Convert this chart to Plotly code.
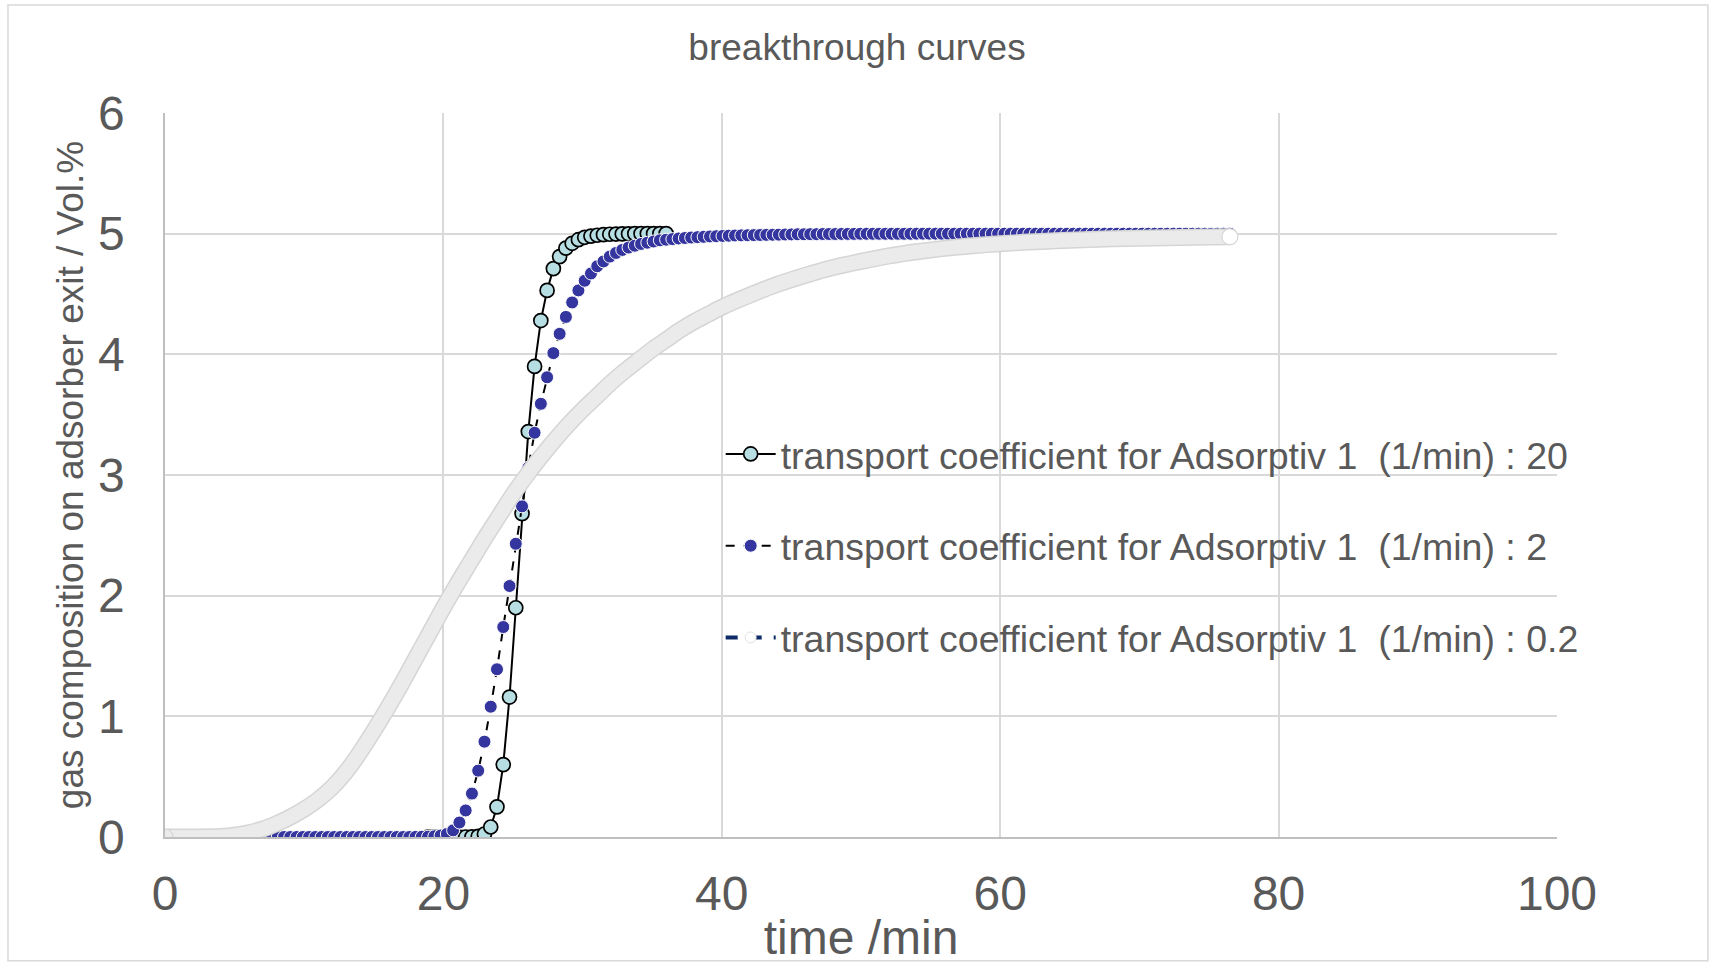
import plotly.graph_objects as go

# ---------------- data ----------------
DT = 0.45  # sampling step of the simulated curves (min)

# k = 2 (1/min): samples every DT starting at t = 0
k2_values = [
    0, 0, 0, 0, 0, 0, 0, 0, 0, 0,
    0, 0, 0, 0, 0, 0, 0, 0, 0, 0,
    0, 0, 0, 0, 0, 0, 0, 0, 0, 0,
    0, 0, 0, 0, 0, 0, 0, 0, 0, 0,
    0.001, 0.002, 0.003, 0.006, 0.012, 0.025, 0.055, 0.12, 0.22, 0.36,
    0.55, 0.79, 1.08, 1.39, 1.74, 2.08, 2.43, 2.74, 3.06, 3.35,
    3.59, 3.81, 4.01, 4.17, 4.31, 4.43, 4.53, 4.61, 4.67, 4.73,
    4.77, 4.81, 4.84, 4.865, 4.885, 4.9, 4.915, 4.925, 4.935, 4.945,
    4.95, 4.955, 4.96, 4.964, 4.968, 4.971, 4.974, 4.977, 4.979, 4.981,
    4.983, 4.985, 4.986, 4.987, 4.988, 4.989, 4.99, 4.991, 4.992, 4.993,
    4.994, 4.995, 4.995, 4.996, 4.996, 4.997, 4.997, 4.997, 4.998, 4.998,
    4.998, 4.999, 4.999, 4.999, 4.999, 4.999, 4.999, 4.999, 4.999, 4.999,
    5, 5, 5, 5, 5, 5, 5, 5, 5, 5,
    5, 5, 5, 5, 5, 5, 5, 5, 5, 5,
    5, 5, 5, 5, 5, 5, 5, 5, 5, 5,
    5, 5, 5, 5, 5, 5, 5, 5, 5, 5,
    5, 5, 5, 5, 5, 5, 5, 5, 5, 5,
    5,
]

# k = 20 (1/min): samples every DT starting at t = 18.9
k20_start = 18.9
k20_values = [
    0, 0, 0, 0, 0, 0, 0, 0.001, 0.005, 0.025,
    0.083, 0.25, 0.60, 1.16, 1.90, 2.68, 3.36, 3.90, 4.28, 4.53,
    4.71, 4.81, 4.88, 4.92, 4.95, 4.97, 4.98, 4.987, 4.992, 4.995,
    4.997, 4.998, 4.999, 5, 5, 5, 5, 5, 5,
]

# k = 0.2 (1/min): dense curve, read at these times
k02_time = [0, 2, 4, 5, 6, 7, 8, 9, 10, 11, 12, 13, 14, 15, 16, 17, 18, 19, 20,
            21, 22, 23, 24, 25, 26, 27, 28, 29, 30, 31, 32, 33, 34, 35, 36, 37,
            38, 39, 40, 42, 44, 46, 48, 50, 52, 54, 56, 58, 60, 62, 64, 66, 68,
            70, 72, 74, 76.5]
k02_values = [0, 0, 0.005, 0.015, 0.035, 0.065, 0.11, 0.165, 0.23, 0.31, 0.41,
              0.54, 0.7, 0.88, 1.07, 1.27, 1.48, 1.69, 1.9, 2.1, 2.29, 2.48,
              2.66, 2.84, 3.0, 3.15, 3.29, 3.42, 3.54, 3.65, 3.76, 3.86, 3.95,
              4.04, 4.12, 4.2, 4.27, 4.33, 4.39, 4.49, 4.58, 4.655, 4.72, 4.77,
              4.815, 4.85, 4.878, 4.9, 4.917, 4.93, 4.941, 4.95, 4.957, 4.962,
              4.967, 4.971, 4.975]

names = [
    "transport coefficient for Adsorptiv 1  (1/min) : 20",
    "transport coefficient for Adsorptiv 1  (1/min) : 2",
    "transport coefficient for Adsorptiv 1  (1/min) : 0.2",
]
x_ticks = [0, 20, 40, 60, 80, 100]
y_ticks = [0, 1, 2, 3, 4, 5, 6]

title_text = "breakthrough curves"
x_title = "time /min"
y_title = "gas composition on adsorber exit / Vol.%"

# ---------------- figure ----------------
FONT = "Liberation Sans, Arial, sans-serif"
TXT = "#595959"

fig = go.Figure()

# k = 20
fig.add_trace(go.Scatter(
    y=k20_values, x0=k20_start, dx=DT, mode="lines+markers", name=names[0],
    legendgroup="g1",
    line=dict(color="black", width=2),
    marker=dict(size=14, color="#b7dee2", line=dict(color="black", width=1.7)),
))

# k = 2
fig.add_trace(go.Scatter(
    y=k2_values, x0=0, dx=DT, mode="lines+markers", name=names[1],
    legendgroup="g2",
    line=dict(color="black", width=2, dash="dash"),
    marker=dict(size=13, color="#3535a0", line=dict(color="white", width=1)),
))

# k = 0.2 : dense white markers drawn as a band
fig.add_trace(go.Scatter(
    x=k02_time, y=k02_values, mode="lines", showlegend=False, legendgroup="g3",
    line=dict(color="#d5d5d5", width=17, shape="spline", smoothing=0.8),
    hoverinfo="skip",
))
fig.add_trace(go.Scatter(
    x=k02_time, y=k02_values, mode="lines", showlegend=False, legendgroup="g3",
    line=dict(color="#ebebeb", width=14, shape="spline", smoothing=0.8),
    hoverinfo="skip",
))
fig.add_trace(go.Scatter(
    x=[k02_time[0], k02_time[-1]], y=[k02_values[0], k02_values[-1]],
    mode="markers", showlegend=False, legendgroup="g3",
    marker=dict(size=16, color=["#ebebeb", "white"],
                line=dict(color="#d5d5d5", width=1.2)),
))
# legend entry for k = 0.2
fig.add_trace(go.Scatter(
    x=[None], y=[None], mode="lines+markers", name=names[2], legendgroup="g3",
    line=dict(color="#0b2a66", width=4, dash="dash"),
    marker=dict(size=11, color="white", line=dict(color="#e0e0e0", width=1)),
))

fig.update_layout(
    width=1714, height=964,
    margin=dict(l=165, r=157, t=113, b=127),
    paper_bgcolor="white", plot_bgcolor="white",
    font=dict(family=FONT, color=TXT),
    title=dict(text=title_text, x=0.5, xref="container", xanchor="center",
               y=1 - 47 / 964, yanchor="middle",
               font=dict(size=37, color=TXT, family=FONT)),
    legend=dict(x=0.3992, xanchor="left", y=0.5717, yanchor="top",
                bgcolor="rgba(0,0,0,0)", font=dict(size=37.5, color=TXT),
                tracegroupgap=40, traceorder="grouped", itemwidth=50),
    showlegend=True,
    shapes=[dict(type="rect", xref="paper", yref="paper",
                 x0=-0.1128, x1=1.1084, y0=-0.1708, y1=1.149,
                 line=dict(color="#d9d9d9", width=1.5), layer="below")],
)

fig.update_xaxes(
    range=[0, 100], tickvals=x_ticks, ticktext=[str(v) for v in x_ticks],
    showgrid=True, gridcolor="#d9d9d9", gridwidth=1.5,
    showline=True, linecolor="#bfbfbf", linewidth=1.5, zeroline=False,
    ticks="", ticklabelstandoff=14, automargin=False,
    tickfont=dict(size=48, color=TXT, family=FONT),
    title=dict(text=x_title, font=dict(size=48, color=TXT, family=FONT), standoff=4),
)
fig.update_yaxes(
    range=[0, 6], tickvals=y_ticks, ticktext=[str(v) for v in y_ticks],
    showgrid=True, gridcolor="#d9d9d9", gridwidth=1.5,
    showline=True, linecolor="#bfbfbf", linewidth=1.5, zeroline=False,
    ticks="", ticklabelstandoff=29, automargin=False,
    tickfont=dict(size=48, color=TXT, family=FONT),
    title=dict(text=y_title, font=dict(size=37, color=TXT, family=FONT), standoff=3),
)

fig.write_html("out.html")
